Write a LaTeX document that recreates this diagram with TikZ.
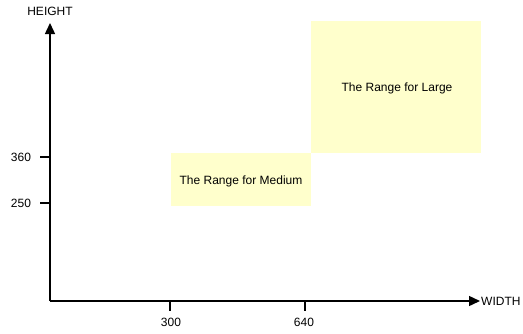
\documentclass[tikz,border=0pt]{standalone}
\usepackage{fontspec}
\setmainfont{Liberation Sans}
\usetikzlibrary{arrows.meta}
\definecolor{rangefill}{HTML}{FFFFCC}
\begin{document}
\begin{tikzpicture}[x=1pt,y=-1pt,
  every node/.style={font=\fontsize{12}{14}\selectfont, inner sep=0pt},
  axis/.style={line width=1.4pt, -{Triangle[length=11pt,width=10pt]}},
  tick/.style={line width=1.4pt},
  rangebox/.style={fill=rangefill, draw=none, anchor=north west}]
\useasboundingbox (0,0) rectangle (523,333);
% range boxes
\node[rangebox, minimum width=140pt, minimum height=53pt] (medium) at (171,153) {};
\node at (241,181) {The Range for Medium};
\node[rangebox, minimum width=170pt, minimum height=132pt] (large) at (311,21) {};
\node at (397,88) {The Range for Large};
% axes
\coordinate (o) at (50,301);
\coordinate (ytip) at (50,23);
\coordinate (xtip) at (480,301);
\draw[axis] (o) -- (ytip);
\draw[axis] (o) -- (xtip);
\node (height) at (50,11) {HEIGHT};
\node[anchor=west] (width) at (481,301) {WIDTH};
% y ticks
\coordinate (y360) at (50,157);
\coordinate (y360l) at (40,157);
\coordinate (y250) at (50,203);
\coordinate (y250l) at (40,203);
\draw[tick] (y360) -- (y360l);
\draw[tick] (y250) -- (y250l);
\node (l360) at (21,157) {360};
\node (l250) at (21,203) {250};
% x ticks
\coordinate (x300) at (170,301);
\coordinate (x300b) at (170,311);
\coordinate (x640) at (305,301);
\coordinate (x640b) at (305,311);
\draw[tick] (x300) -- (x300b);
\draw[tick] (x640) -- (x640b);
\node (l300) at (171,322) {300};
\node (l640) at (304,322) {640};
\end{tikzpicture}
\end{document}
